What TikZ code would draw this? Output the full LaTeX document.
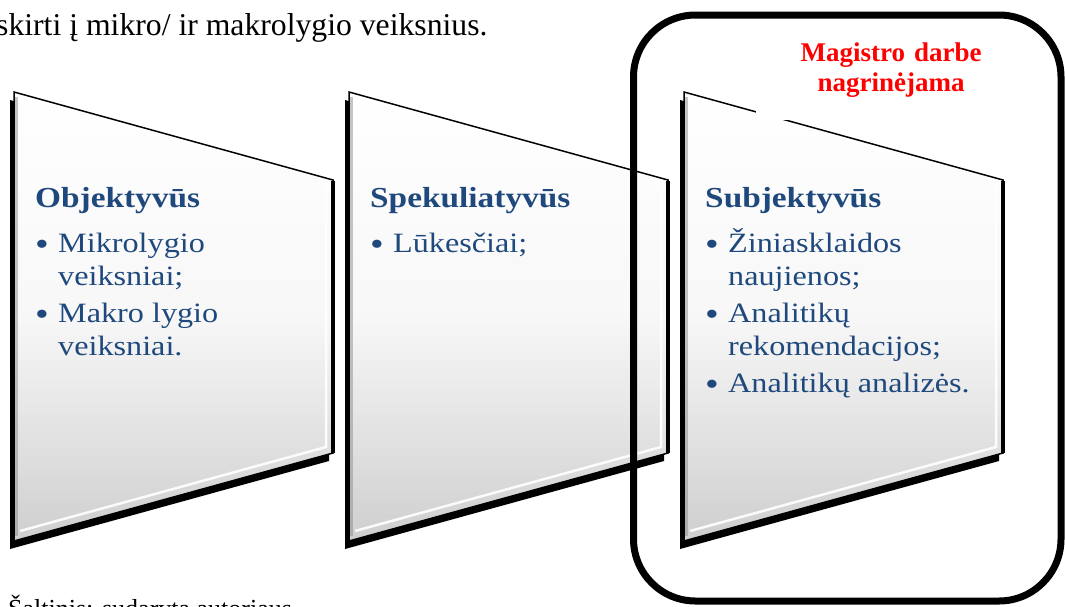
\documentclass[tikz,border=0pt]{standalone}
\usepackage{fontspec}
\setmainfont{Liberation Serif}
\newfontfamily\panelfont[FakeStretch=1.15]{Liberation Serif}
\usetikzlibrary{positioning,shadows}

\definecolor{titleblue}{RGB}{31,73,125}
\definecolor{notered}{RGB}{255,0,0}

% bullet and hanging indent for the panel lists
\newcommand{\bul}{\makebox[23pt][l]{\raisebox{-3pt}{\fontsize{34}{34}\selectfont\textbullet}}}
\newcommand{\ind}{\hspace*{23pt}}
\newcommand{\ttl}[1]{{\fontsize{29}{33}\selectfont\bfseries #1}}

\tikzset{
  panel/.style={draw=black, line width=1.5pt, top color=white, bottom color=black!19, middle color=black!3,
    drop shadow={shadow xshift=-4pt, shadow yshift=-8pt, fill=black, opacity=1}},
  bevel/.style={white, line width=2.5pt, opacity=.9},
  paneltext/.style={anchor=north west, inner sep=0pt, align=left, text=titleblue,
    font=\panelfont\fontsize{28}{33}\selectfont},
  plain/.style={anchor=base west, inner sep=0pt}
}

\begin{document}
\begin{tikzpicture}[x=1pt, y=-1pt]
    \useasboundingbox (0,0) rectangle (1065,606);

    % Surrounding text
    \node [plain, font=\fontsize{31.7}{36}\selectfont] (intro) at (-4,35) {skirti į mikro/ ir makrolygio veiksnius.};
    \node [plain, font=\fontsize{26}{30}\selectfont] (source) at (8,617) {Šaltinis: sudaryta autoriaus};

    % Panels
    \foreach \n/\x in {obj/14, spek/349, subj/684} {
        \path [panel] (\x,92) coordinate (\n) -- ++(319,88) -- ++(0,273) -- ++(-319,88) -- cycle;
        \draw [line width=3.5pt] (\x+319,181) -- (\x+319,453);
        \draw [black!45, line width=3pt, opacity=.5] (\x+2.5,97) -- (\x+2.5,536);
        \draw [bevel] (\x+312,186) -- (\x+312,447) -- (\x+6,531);
    }

    % Panel texts
    \node [paneltext, below right=95pt and 21pt of obj] (objtxt)
        {\ttl{Objektyvūs}\\[12pt] \bul Mikrolygio\\ \ind veiksniai;\\[4pt] \bul Makro lygio\\ \ind veiksniai.};
    \node [paneltext, below right=95pt and 21pt of spek] (spektxt)
        {\ttl{Spekuliatyvūs}\\[12pt] \bul Lūkesčiai;};
    \node [paneltext, below right=95pt and 21pt of subj] (subjtxt)
        {\ttl{Subjektyvūs}\\[12pt] \bul Žiniasklaidos\\ \ind naujienos;\\[4pt] \bul Analitikų\\ \ind rekomendacijos;\\[4pt] \bul Analitikų analizės.};

    % Note and frame round the last panel
    \node [fill=white, inner sep=0pt, text width=270pt, minimum height=100pt, align=center, text=notered,
        font=\bfseries\fontsize{27}{30}\selectfont] (note) at (891,70) {Magistro darbe\\nagrinėjama};
    \node [draw, line width=7pt, rounded corners=62pt, minimum width=427.5pt, minimum height=586pt, inner sep=0pt] (frame) at (847.25,308) {};
\end{tikzpicture}
\end{document}
